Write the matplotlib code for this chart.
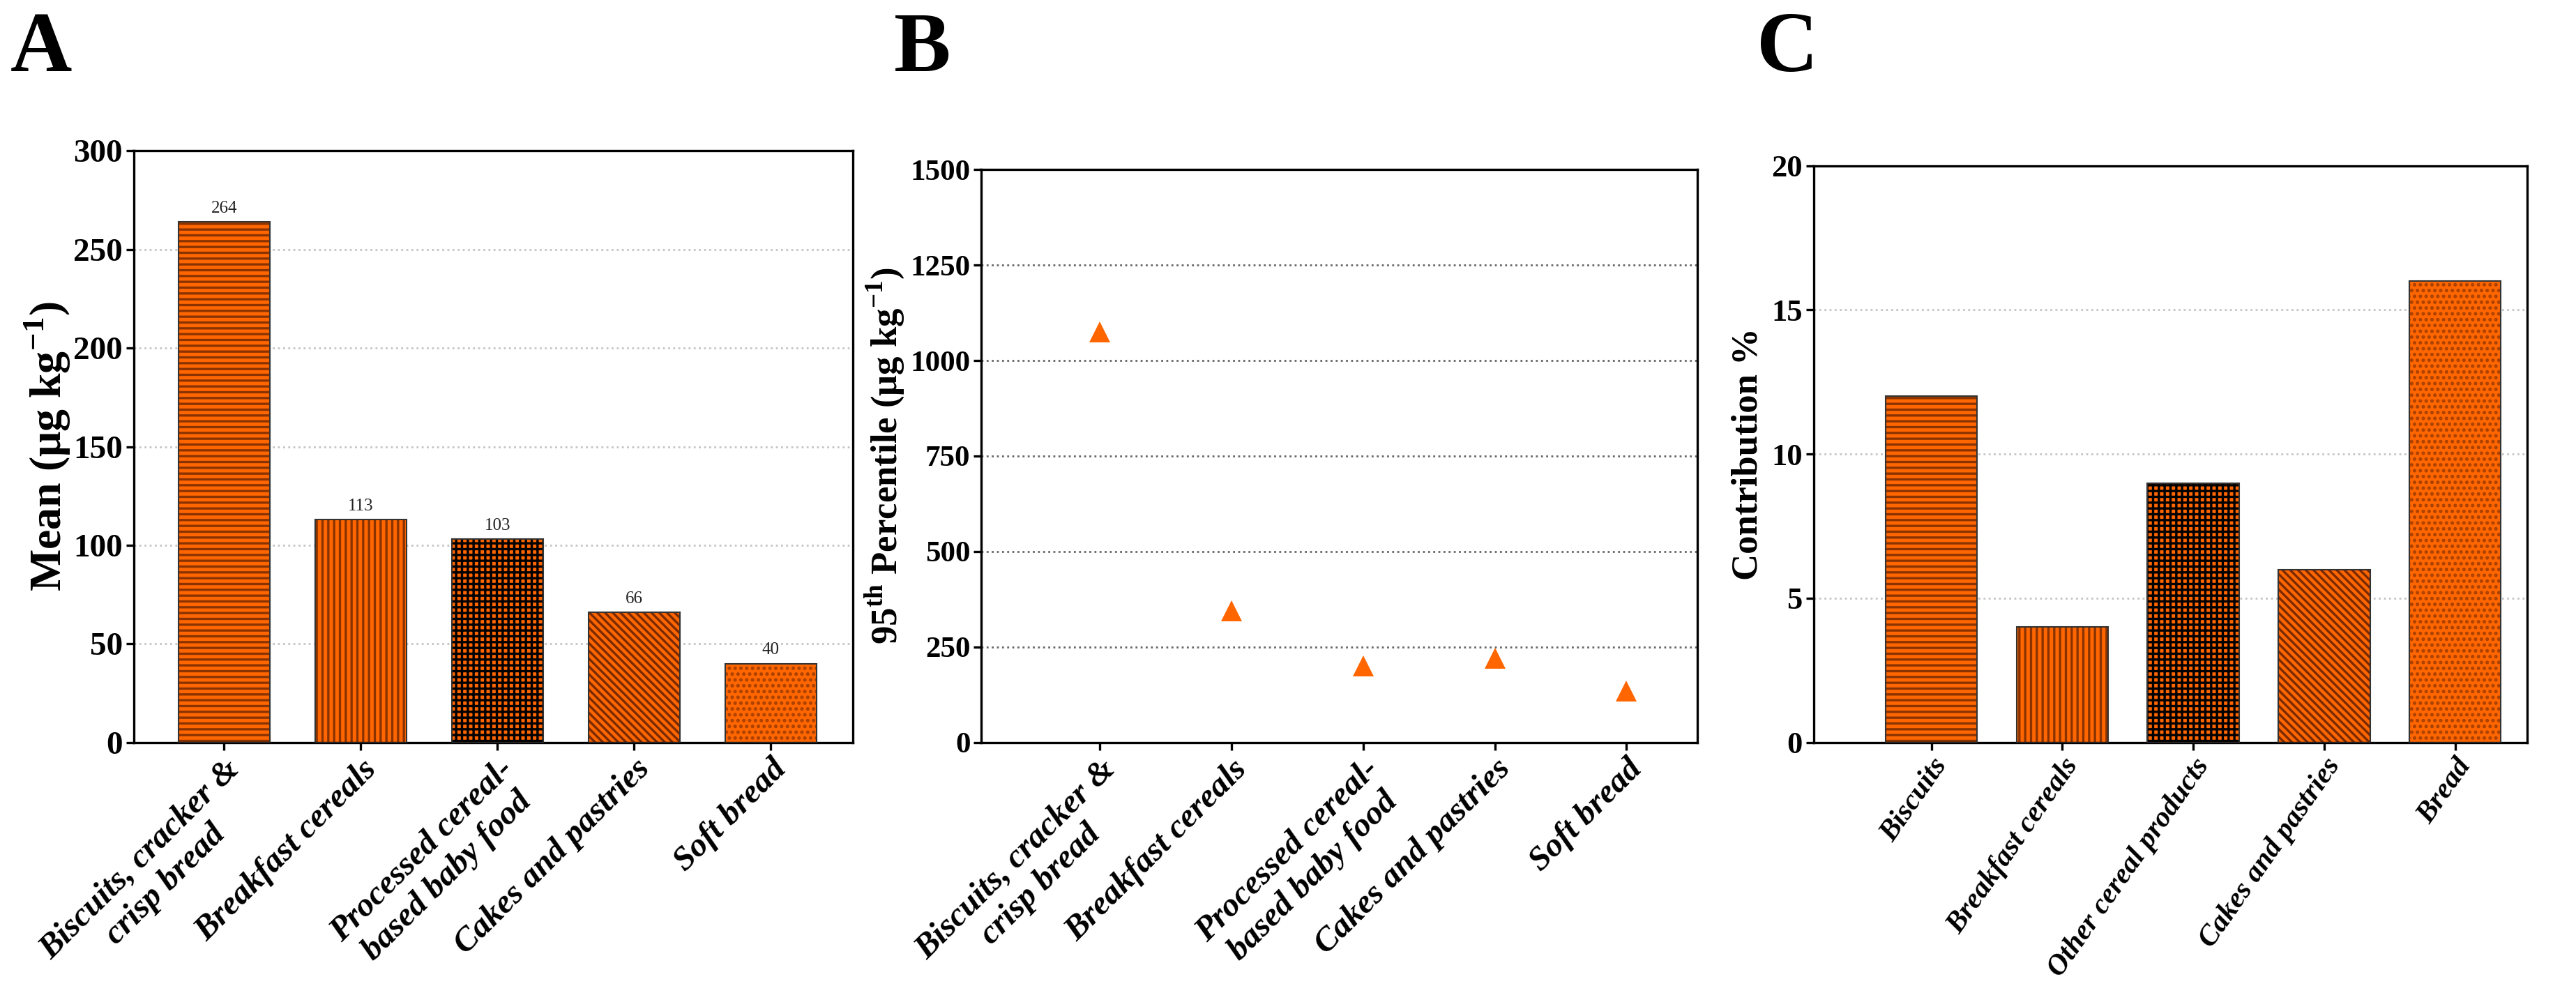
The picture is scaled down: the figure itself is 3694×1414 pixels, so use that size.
import matplotlib
matplotlib.use("Agg")
import matplotlib.pyplot as plt
import numpy as np

plt.rcParams['font.family'] = ['Liberation Serif', 'DejaVu Serif']
plt.rcParams['mathtext.fontset'] = 'custom'
plt.rcParams['mathtext.rm'] = 'Liberation Serif'
plt.rcParams['mathtext.bf'] = 'Liberation Serif:bold'
plt.rcParams['hatch.linewidth'] = 2.4

# Datos
cat_ab = ['Biscuits, cracker &\ncrisp bread', 'Breakfast cereals',
          'Processed cereal-\nbased baby food', 'Cakes and pastries', 'Soft bread']
media = [264, 113, 103, 66, 40]
p95 = [1075, 345, 200, 220, 135]

cat_c = ['Biscuits', 'Breakfast cereals', 'Other cereal products',
         'Cakes and pastries', 'Bread']
contrib = [12, 4, 9, 6, 16]

naranja = '#ff6600'
tramas = ['--', '||', '++', '\\\\\\', '..']
col_trama = ['#8a3300', '#8a3300', '#000000', '#7a2a00', '#a84000']

fig = plt.figure(figsize=(36.94, 14.14), dpi=100)
axA = fig.add_axes([0.052, 0.247, 0.279, 0.600])
axB = fig.add_axes([0.381, 0.247, 0.278, 0.581])
axC = fig.add_axes([0.704, 0.247, 0.277, 0.585])

def estilo(ax, color_grid, tam=35):
    for s in ax.spines.values():
        s.set_linewidth(2.4)
        s.set_color('black')
    ax.tick_params(axis='both', width=2.4, length=8, direction='out')
    ax.yaxis.grid(True, linestyle=':', color=color_grid, linewidth=2.0)
    ax.set_axisbelow(True)
    for t in ax.get_yticklabels():
        t.set_fontsize(tam)
        t.set_fontweight('bold')

def barras(ax, valores, ancho):
    x = np.arange(len(valores))
    for i, v in enumerate(valores):
        ax.bar(x[i], v, width=ancho, color=naranja, edgecolor=col_trama[i],
               hatch=tramas[i], linewidth=0, zorder=2)
        ax.bar(x[i], v, width=ancho, fill=False, edgecolor='#333333',
               linewidth=1.5, zorder=3)
    return x

# A
x = barras(axA, media, 0.67)
for xi, v in zip(x, media):
    axA.text(xi, v + 3, str(v), ha='center', va='bottom', fontsize=18, color='#222222')
axA.set_ylim(0, 300)
axA.set_yticks(np.arange(0, 301, 50))
axA.set_xlim(-0.66, 4.6)
axA.set_xticks(x)
axA.set_xticklabels(cat_ab, rotation=45, ha='right', va='top', rotation_mode='anchor',
                    fontsize=35, fontweight='bold', fontstyle='italic', multialignment='center')
axA.set_ylabel(r'Mean (μg kg$^{\mathbf{-1}}$)', fontsize=46, fontweight='bold')
axA.yaxis.set_label_coords(-0.12, 0.5)
axA.yaxis.label.set_va('center')
estilo(axA, '#c4c4c4', tam=34)

# B
xb = np.arange(len(p95))
axB.plot(xb, p95, linestyle='none', marker='^', markersize=22, color=naranja,
         markeredgewidth=0, zorder=3)
axB.set_ylim(0, 1500)
axB.set_yticks(np.arange(0, 1501, 250))
axB.set_xlim(-0.9, 4.54)
axB.set_xticks(xb)
axB.set_xticklabels(cat_ab, rotation=45, ha='right', va='top', rotation_mode='anchor',
                    fontsize=35, fontweight='bold', fontstyle='italic', multialignment='center')
axB.set_ylabel(r'95$^{\mathbf{th}}$ Percentile (μg kg$^{\mathbf{-1}}$)', fontsize=38,
               fontweight='bold')
axB.yaxis.set_label_coords(-0.135, 0.5)
axB.yaxis.label.set_va('center')
estilo(axB, '#666666', tam=31)

# C
xc = barras(axC, contrib, 0.70)
axC.set_ylim(0, 20)
axC.set_yticks(np.arange(0, 21, 5))
axC.set_xlim(-0.9, 4.55)
axC.set_xticks(xc)
axC.set_xticklabels(cat_c, rotation=55, ha='right', va='top', rotation_mode='anchor',
                    fontsize=30, fontweight='bold', fontstyle='italic')
axC.set_ylabel('Contribution %', fontsize=38, fontweight='bold')
axC.yaxis.set_label_coords(-0.092, 0.5)
axC.yaxis.label.set_va('center')
estilo(axC, '#c4c4c4', tam=32)

# Letras de panel
fig.text(0.004, 0.928, 'A', fontsize=88, fontweight='bold', va='baseline')
fig.text(0.347, 0.928, 'B', fontsize=88, fontweight='bold', va='baseline')
fig.text(0.682, 0.928, 'C', fontsize=88, fontweight='bold', va='baseline')

plt.savefig('out.png', dpi=100)
plt.close()
